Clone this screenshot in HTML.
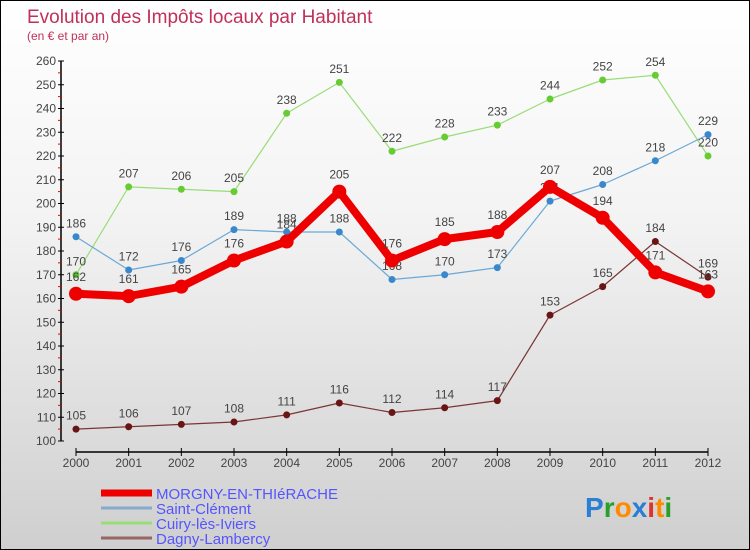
<!DOCTYPE html>
<html><head><meta charset="utf-8"><style>
body{margin:0}
#c{width:748px;height:548px;border:1px solid #000;background:linear-gradient(#fff,#f3f3f3 40%,#cfcfcf);position:relative;font-family:"Liberation Sans",sans-serif;overflow:hidden}
svg text{font-family:"Liberation Sans",sans-serif}
</style></head><body>
<div id="c">
<svg id="s" width="748" height="548" xmlns="http://www.w3.org/2000/svg">
<text x="26" y="22" font-size="19" fill="#c0305a">Evolution des Impôts locaux par Habitant</text>
<text x="26" y="39" font-size="12" fill="#c0305a">(en € et par an)</text>
<g id="axes"></g><g id="series"></g><g id="legend"></g>
<text x="584" y="516" font-size="28" font-weight="bold"><tspan fill="#2a7fd4">P</tspan><tspan fill="#2aa02a">r</tspan><tspan fill="#ff8a00">o</tspan><tspan fill="#2a7fd4">x</tspan><tspan fill="#e03030">i</tspan><tspan fill="#ff8a00">t</tspan><tspan fill="#2aa02a">i</tspan></text>
</svg></div>
<script>
const years=[2000,2001,2002,2003,2004,2005,2006,2007,2008,2009,2010,2011,2012];
const yTicks=[100,110,120,130,140,150,160,170,180,190,200,210,220,230,240,250,260];
const morgny=[162,161,165,176,184,205,176,185,188,207,194,171,163];
const saintClement=[186,172,176,189,188,188,168,170,173,201,208,218,229];
const cuiry=[170,207,206,205,238,251,222,228,233,244,252,254,220];
const dagny=[105,106,107,108,111,116,112,114,117,153,165,184,169];
const NS="http://www.w3.org/2000/svg";
function X(i){return 75+i*(707-75)/12;}
function Y(v){return 440-(v-100)*(380/160);}
function mk(tag,attrs,parent){const e=document.createElementNS(NS,tag);for(const k in attrs)e.setAttribute(k,attrs[k]);parent.appendChild(e);return e;}
const ax=document.getElementById('axes');
let a=mk('line',{x1:60,y1:Y(260),x2:60,y2:Y(100),stroke:'#000','stroke-width':1.5},ax);


yTicks.forEach((t,i)=>{
  const y=Y(t);
  const tk=mk('line',{x1:57,y1:y,x2:63,y2:y,stroke:'#000'},ax);
  
  
  if(i<yTicks.length-1){const m=mk('line',{x1:57,y1:y-11.9,x2:60,y2:y-11.9,stroke:'#e00'},ax);
  
  }
  const tx=mk('text',{x:55,y:y+4,'font-size':12,fill:'#444','text-anchor':'end'},ax);
  tx.textContent=t;
  
  
});
a=mk('line',{x1:75,y1:451,x2:707,y2:451,stroke:'#000','stroke-width':1.5},ax);


years.forEach((yr,i)=>{
  const x=X(i);
  const tk=mk('line',{x1:x,y1:447,x2:x,y2:455,stroke:'#000'},ax);
  
  
  const tx=mk('text',{x:x,y:466,'font-size':12,fill:'#444','text-anchor':'middle'},ax);
  tx.textContent=yr;
  
  
});
const sg=document.getElementById('series');
function series(vals,color,w,r,dot,name){
  const g=mk('g',{},sg);
  
  
  const p=mk('polyline',{points:vals.map((v,i)=>X(i)+','+Y(v)).join(' '),fill:'none',stroke:color,'stroke-width':w,'stroke-linejoin':'round'},g);
  
  
  vals.forEach((v,i)=>{
    const c=mk('circle',{cx:X(i),cy:Y(v),r:r,fill:dot},g);
    
    
    const t=mk('text',{x:X(i),y:Y(v)-r-6,'font-size':12,fill:'#444','text-anchor':'middle'},g);
    t.textContent=v;
    
    
  });
}
series(dagny,'#7a3535',1.2,3.5,'#6a1515','dagny-lambercy');
series(cuiry,'#99dd77',1.2,3.5,'#66cc33','cuiry-les-iviers');
series(saintClement,'#6aa8d8',1.2,3.5,'#3a88cc','saint-clement');
series(morgny,'#ee0000',8,7,'#ee0000','morgny');
const lg=document.getElementById('legend');
const items=[['MORGNY-EN-THIéRACHE','#ee0000',7],['Saint-Clément','#88aacc',3],['Cuiry-lès-Iviers','#99dd77',3],['Dagny-Lambercy','#996666',3]];
items.forEach((it,i)=>{
  const y=492+i*15;
  const l=mk('line',{x1:100,y1:y,x2:151,y2:y,stroke:it[1],'stroke-width':it[2]},lg);
  
  
  const t=mk('text',{x:155,y:y+6,'font-size':15,fill:'#5555ff'},lg);
  t.textContent=it[0];
  
  
});
</script>
</body></html>
